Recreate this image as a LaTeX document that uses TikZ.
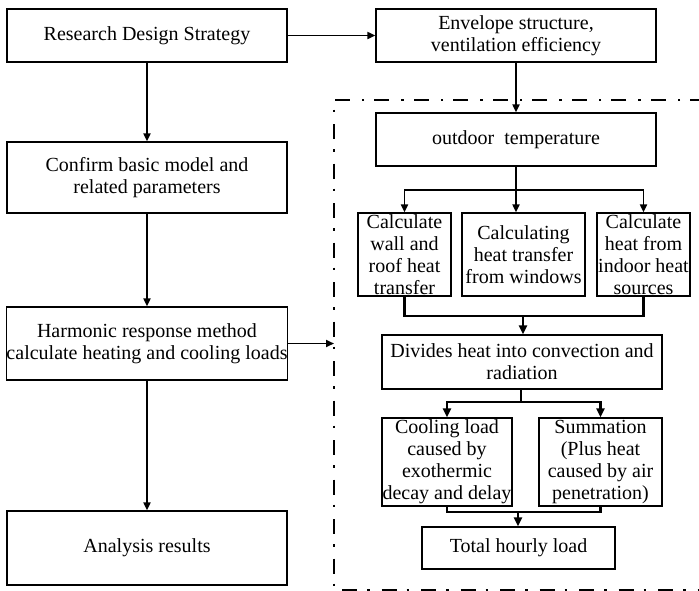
\documentclass[tikz,border=0pt]{standalone}
\usepackage{fontspec}
\setmainfont{Liberation Serif}
\usetikzlibrary{arrows.meta}
\begin{document}
\begin{tikzpicture}[x=1pt,y=-1pt,
  box/.style={draw,line width=1.2pt,inner sep=0pt,align=center,font=\fontsize{20}{22}\selectfont},
  conn/.style={line width=1.8pt,-{Triangle[length=8pt,width=7pt]}},
  thickconn/.style={line width=2.4pt,-{Triangle[length=9pt,width=8pt]}},
  plain/.style={line width=1.8pt},
  thickplain/.style={line width=2.4pt},
  frame/.style={line width=2.5pt,dash pattern=on 15pt off 10pt on 2.5pt off 12pt}]
\useasboundingbox (0,0) rectangle (699,590);
% left column
\node[box,minimum width=280pt,minimum height=53pt] (rds) at (147,35.5) {Research Design Strategy};
\node[box,minimum width=280pt,minimum height=71pt] (conf) at (147,177.5) {Confirm basic model and\\related parameters};
\node[box,minimum width=280pt,minimum height=73pt] (harm) at (147,343.5) {Harmonic response method\\calculate heating and cooling loads};
\node[box,minimum width=280pt,minimum height=74pt] (anal) at (147,548) {Analysis results};
% right column
\node[box,minimum width=280pt,minimum height=53pt] (env) at (516,35.5) {Envelope structure,\\ventilation efficiency};
\node[box,minimum width=280pt,minimum height=53pt] (out) at (516,139.5) {outdoor\ \ temperature};
\node[box,minimum width=93pt,minimum height=83pt] (wall) at (404.5,254.5) {Calculate\\wall and\\roof heat\\transfer};
\node[box,minimum width=123pt,minimum height=83pt] (win) at (523.5,254.5) {Calculating\\heat transfer\\from windows};
\node[box,minimum width=93pt,minimum height=83pt] (indoor) at (643.5,254.5) {Calculate\\heat from\\indoor heat\\sources};
\node[box,minimum width=280pt,minimum height=54pt] (div) at (522,362) {Divides heat into convection and\\radiation};
\node[box,minimum width=130pt,minimum height=88pt] (cool) at (447,462) {Cooling load\\caused by\\exothermic\\decay and delay};
\node[box,minimum width=123pt,minimum height=88pt] (sum) at (600.5,462) {Summation\\(Plus heat\\caused by air\\penetration)};
\node[box,minimum width=193pt,minimum height=42pt] (tot) at (518.5,548) {Total hourly load};
% dash-dot frame
\coordinate (ftr) at (705,100);
\coordinate (ftl) at (334,100);
\coordinate (fbl) at (334,590);
\coordinate (fbr) at (705,590);
\draw[frame] (ftr) -- (ftl) -- (fbl) -- (fbr);
\coordinate (hit) at (334,343.5);
% left connectors
\draw[conn] (rds) -- (conf);
\draw[conn] (conf) -- (harm);
\draw[conn] (harm) -- (anal);
\draw[conn] (rds) -- (env);
\draw[conn] (harm.east) -- (hit);
% right connectors
\draw[conn] (env) -- (out);
\coordinate (s1) at (516,190);
\draw[plain] (out.south) -- (s1);
\draw[conn] (s1) -| (wall.north);
\draw[conn] (s1) -| (indoor.north);
\draw[conn] (s1) -- (s1 |- win.north);
\coordinate (m1) at (523,316);
\draw[thickplain] (wall.south) |- (m1) -| (indoor.south);
\draw[thickconn] (m1) -- (m1 |- div.north);
\coordinate (s2) at (521,402);
\draw[thickplain] (div.south -| s2) -- (s2);
\draw[thickconn] (s2) -| (cool.north);
\draw[thickconn] (s2) -| (sum.north);
\coordinate (m2) at (518,512);
\draw[thickplain] (cool.south) |- (m2) -| (sum.south);
\draw[thickconn] (m2) -- (m2 |- tot.north);
\end{tikzpicture}
\end{document}
